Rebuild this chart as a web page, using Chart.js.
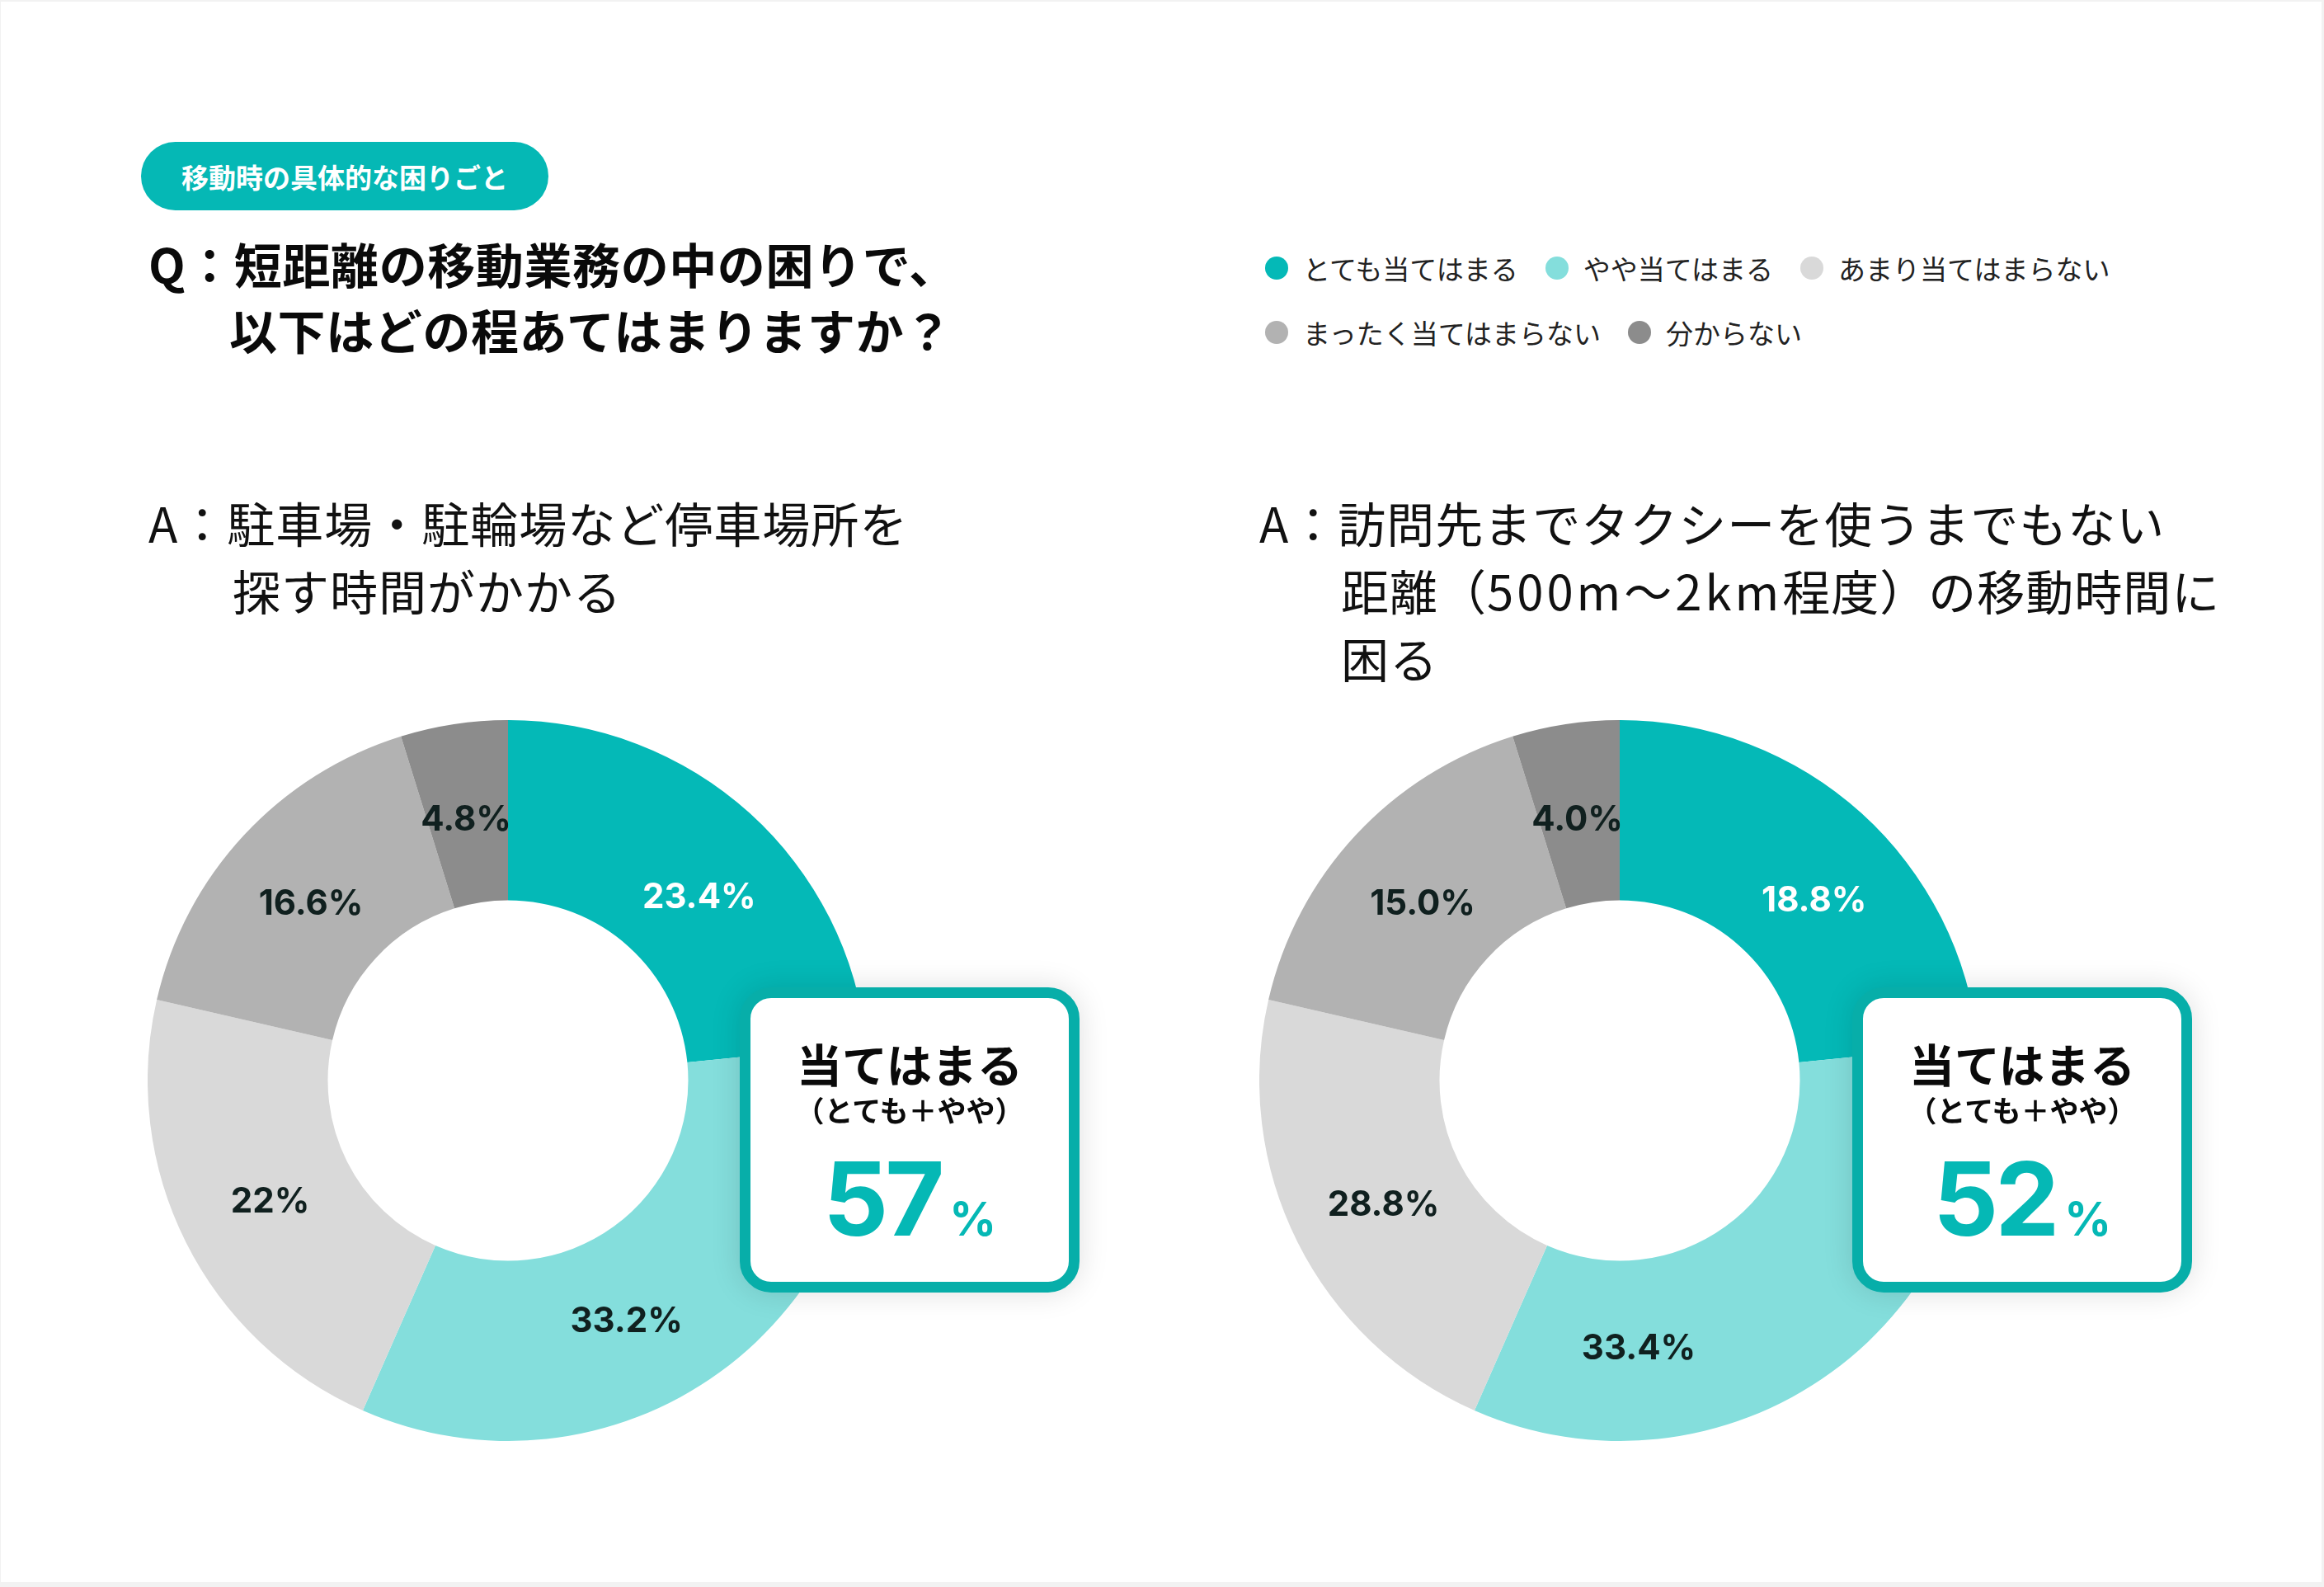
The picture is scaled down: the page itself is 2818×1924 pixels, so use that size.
<!DOCTYPE html>
<html><head><meta charset="utf-8">
<script src="https://cdn.jsdelivr.net/npm/chart.js@4.4.1/dist/chart.umd.min.js"></script>
<style>
html,body{margin:0;padding:0;}
body{width:2818px;height:1924px;background:#f2f2f2;position:relative;overflow:hidden;font-family:"Noto Sans CJK JP","Noto Sans",sans-serif;color:#111;}
#card{position:absolute;left:1px;top:2px;width:2814px;height:1916px;background:#fff;}
.abs{position:absolute;}
.pill{left:171px;top:172px;width:494px;height:83px;border-radius:42px;background:#05b8b5;color:#fff;font-weight:700;font-size:33px;display:flex;align-items:center;justify-content:center;}
.q{left:180px;top:279px;font-size:58px;font-weight:700;line-height:80px;white-space:nowrap;color:#0a0a0a;letter-spacing:0.6px;}
.legend{left:1534px;top:300px;font-size:33px;color:#222;}
.row{display:flex;align-items:center;height:50px;margin-bottom:28px;}
.item{display:flex;align-items:center;margin-right:33px;white-space:nowrap;}
.dot{width:28px;height:28px;border-radius:50%;margin-right:18px;flex:none;}
.ans{font-size:58px;font-weight:400;line-height:82px;white-space:nowrap;color:#111;letter-spacing:1px;}
.lat{letter-spacing:4px;}
.chart{position:absolute;width:874px;height:874px;}
.box{position:absolute;top:1197px;width:386px;height:344px;border:13px solid #07aea9;border-radius:38px;background:#fff;box-shadow:0 0 36px rgba(0,0,0,0.13);text-align:center;}
.box .t1{position:absolute;left:0;right:0;top:48px;font-size:55px;font-weight:700;line-height:60px;color:#0a0a0a;}
.box .t2{position:absolute;left:0;right:0;top:113px;font-size:35px;font-weight:700;line-height:44px;color:#0a0a0a;}
.box .t3{position:absolute;left:0;right:0;top:178px;font-family:Inter,"Noto Sans",sans-serif;color:#05b8b5;font-weight:700;line-height:130px;}
.box .big{font-size:124px;letter-spacing:-4px;}
.box .pc{font-size:56px;margin-left:10px;}
</style></head>
<body>
<div id="card"></div>
<div class="abs pill">移動時の具体的な困りごと</div>
<div class="abs q">Q：短距離の移動業務の中の困りで、<br><span style="padding-left:98px">以下はどの程あてはまりますか？</span></div>
<div class="abs legend" id="legend"></div>

<div class="abs ans" style="left:180px;top:592px;">A：駐車場・駐輪場など停車場所を<br><span style="padding-left:102px">探す時間がかかる</span></div>
<div class="abs ans" style="left:1527px;top:592px;">A：訪問先までタクシーを使うまでもない<br><span style="padding-left:99px">距離（<span class="lat">500m〜2km</span>程度）の移動時間に</span><br><span style="padding-left:99px">困る</span></div>

<canvas id="c1" class="chart" width="874" height="874" style="left:179px;top:873px;"></canvas>
<canvas id="c2" class="chart" width="874" height="874" style="left:1527px;top:873px;"></canvas>

<div class="box" style="left:897px;"><div class="t1">当てはまる</div><div class="t2">（とても＋やや）</div><div class="t3"><span class="big" id="s1"></span><span class="pc">%</span></div></div>
<div class="box" style="left:2246px;"><div class="t1">当てはまる</div><div class="t2">（とても＋やや）</div><div class="t3"><span class="big" id="s2"></span><span class="pc">%</span></div></div>

<script>
const categories = ['とても当てはまる','やや当てはまる','あまり当てはまらない','まったく当てはまらない','分からない'];
const colors = ['#04b9b7','#84dedc','#d9d9d9','#b2b2b2','#8c8c8c'];
// left chart: slice sizes and printed labels
const leftValues = [23.4, 33.2, 22, 16.6, 4.8];
const leftLabels = ['23.4%','33.2%','22%','16.6%','4.8%'];
// right chart: the reference draws its ring with the same slice sizes as the left one
// (read from the slice boundaries in the picture), while printing these labels
const rightSliceValues = [23.4, 33.2, 22, 16.6, 4.8];
const rightLabels = ['18.8%','33.4%','28.8%','15.0%','4.0%'];
const leftSummary = '57';
const rightSummary = '52';
const labelColors = ['#ffffff','#10201f','#10201f','#10201f','#10201f'];

// legend
const lg = document.getElementById('legend');
const rows = [[0,1,2],[3,4]];
rows.forEach(r => {
  const row = document.createElement('div'); row.className='row';
  r.forEach(i => {
    const it = document.createElement('div'); it.className='item';
    it.innerHTML = '<span class="dot" style="background:'+colors[i]+'"></span><span>'+categories[i]+'</span>';
    row.appendChild(it);
  });
  lg.appendChild(row);
});
document.getElementById('s1').textContent = leftSummary;
document.getElementById('s2').textContent = rightSummary;

// labels are placed on each arc, at a fraction of its sweep (style option per chart)
const labelPlugin = {
  id:'sliceLabels',
  afterDatasetsDraw(chart){
    const ctx = chart.ctx;
    const meta = chart.getDatasetMeta(0);
    const o = chart.options.plugins.sliceLabels;
    ctx.save();
    ctx.font = '700 42px Inter, "Noto Sans", sans-serif';
    ctx.textAlign = 'center';
    ctx.textBaseline = 'middle';
    meta.data.forEach((arc, i) => {
      const p = arc.getProps(['x','y','startAngle','endAngle','innerRadius','outerRadius'], true);
      const f = o.along[i];
      const a = p.startAngle + f * (p.endAngle - p.startAngle);
      const r = (p.innerRadius + p.outerRadius) / 2 - 5;
      ctx.fillStyle = labelColors[i];
      ctx.fillText(o.labels[i], p.x + Math.cos(a) * r, p.y + Math.sin(a) * r + 3);
    });
    ctx.restore();
  }
};

function makeChart(id, values, labels, along){
  new Chart(document.getElementById(id), {
    type:'doughnut',
    data:{labels:categories, datasets:[{data:values, backgroundColor:colors, borderWidth:0, hoverBorderWidth:0, hoverOffset:0, offset:0}]},
    options:{
      responsive:false, animation:false, cutout:'50%',
      layout:{padding:0},
      events:[],
      plugins:{legend:{display:false}, tooltip:{enabled:false}, sliceLabels:{labels:labels, along:along}}
    },
    plugins:[labelPlugin]
  });
}
makeChart('c1', leftValues, leftLabels, [0.545, 0.58, 0.5, 0.49, 0.475]);
makeChart('c2', rightSliceValues, rightLabels, [0.557, 0.767, 0.49, 0.49, 0.47]);
</script>
</body></html>
